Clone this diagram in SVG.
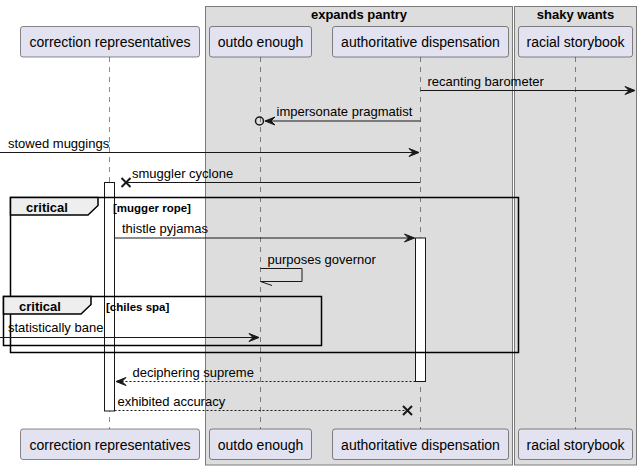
<svg xmlns="http://www.w3.org/2000/svg" width="641" height="470" viewBox="0 0 641 470">
<defs>
<style>
.grp{fill:#DDDDDD;stroke:#7a7a7a;stroke-width:1}
.gt{font-family:"Liberation Sans",Arial,sans-serif;font-size:13px;font-weight:bold;fill:#000;text-anchor:middle}
.life{stroke:#181818;stroke-width:0.5;stroke-dasharray:5,5;fill:none}
.pbox{fill:#E2E2F0;stroke:#181818;stroke-width:0.5}
.pt{font-family:"Liberation Sans",Arial,sans-serif;font-size:14px;fill:#000;text-anchor:middle}
.act{fill:#FFFFFF;stroke:#181818;stroke-width:1}
.frame{fill:none;stroke:#000;stroke-width:1.5}
.tab{fill:#EEEEEE;stroke:#000;stroke-width:1.5}
.ft{font-family:"Liberation Sans",Arial,sans-serif;font-size:13px;font-weight:bold;fill:#000}
.guard{font-family:"Liberation Sans",Arial,sans-serif;font-size:11.5px;font-weight:bold;fill:#000}
.msg{stroke:#181818;stroke-width:1;fill:none}
.dash{stroke:#181818;stroke-width:1;fill:none;stroke-dasharray:2,2}
.ah{fill:#181818;stroke:#181818;stroke-width:1}
.mt{font-family:"Liberation Sans",Arial,sans-serif;font-size:13px;fill:#000}
.xx{stroke:#181818;stroke-width:2;fill:none}
</style>
</defs>
<rect width="641" height="470" fill="#FFFFFF"/>
<g id="box-expands-pantry">
<rect class="grp" x="205.5" y="6.5" width="307" height="458.5"/>
<text class="gt" x="359" y="19">expands pantry</text>
</g>
<g id="box-shaky-wants">
<rect class="grp" x="514.5" y="6.5" width="122" height="458.5"/>
<text class="gt" x="575.5" y="19">shaky wants</text>
</g>
<g id="lifelines">
<line class="life" x1="109.5" y1="57" x2="109.5" y2="429"/>
<line class="life" x1="260.5" y1="57" x2="260.5" y2="429"/>
<line class="life" x1="420.5" y1="57" x2="420.5" y2="429"/>
<line class="life" x1="575.5" y1="57" x2="575.5" y2="429"/>
</g>
<g id="correction-representatives">
<rect class="pbox" x="20.5" y="26.5" width="179" height="30.5" rx="2.5"/>
<text class="pt" x="110" y="46.5">correction representatives</text>
<rect class="pbox" x="20.5" y="429" width="179" height="30.5" rx="2.5"/>
<text class="pt" x="110" y="449.5">correction representatives</text>
<rect class="act" x="104.5" y="182.5" width="10" height="228.5"/>
</g>
<g id="outdo-enough">
<rect class="pbox" x="209.5" y="26.5" width="102" height="30.5" rx="2.5"/>
<text class="pt" x="260.5" y="46.5">outdo enough</text>
<rect class="pbox" x="209.5" y="429" width="102" height="30.5" rx="2.5"/>
<text class="pt" x="260.5" y="449.5">outdo enough</text>
</g>
<g id="authoritative-dispensation">
<rect class="pbox" x="332.5" y="26.5" width="176" height="30.5" rx="2.5"/>
<text class="pt" x="420.5" y="46.5">authoritative dispensation</text>
<rect class="pbox" x="332.5" y="429" width="176" height="30.5" rx="2.5"/>
<text class="pt" x="420.5" y="449.5">authoritative dispensation</text>
<rect class="act" x="415.5" y="238" width="10" height="143.5"/>
</g>
<g id="racial-storybook">
<rect class="pbox" x="518.5" y="26.5" width="114" height="30.5" rx="2.5"/>
<text class="pt" x="575.5" y="46.5">racial storybook</text>
<rect class="pbox" x="518.5" y="429" width="114" height="30.5" rx="2.5"/>
<text class="pt" x="575.5" y="449.5">racial storybook</text>
</g>
<g id="frame-critical-mugger-rope">
<rect class="frame" x="10.5" y="197.5" width="508" height="155"/>
<polygon class="tab" points="10.5,197.5 98,197.5 98,205.5 88,215 10.5,215"/>
<text class="ft" x="26" y="211.5">critical</text>
<text class="guard" x="113" y="211.5">[mugger rope]</text>
</g>
<g id="frame-critical-chiles-spa">
<rect class="frame" x="3.5" y="296.5" width="318" height="49"/>
<polygon class="tab" points="3.5,296.5 91,296.5 91,304.5 81,314 3.5,314"/>
<text class="ft" x="19" y="310.5">critical</text>
<text class="guard" x="106" y="310.5">[chiles spa]</text>
</g>
<g id="connectors">
<line class="msg" x1="420.5" y1="90.5" x2="635" y2="90.5"/>
<polygon class="ah" points="625,86.5 635,90.5 625,94.5 629,90.5"/>
<text class="mt" x="427.5" y="85.5">recanting barometer</text>

<line class="msg" x1="420.5" y1="121" x2="265" y2="121"/>
<polygon class="ah" points="275,117 265,121 275,125 271,121"/>
<circle cx="259.5" cy="121" r="4" fill="none" stroke="#181818" stroke-width="1.5"/>
<text class="mt" x="276.5" y="116">impersonate pragmatist</text>

<line class="msg" x1="0" y1="152.5" x2="419" y2="152.5"/>
<polygon class="ah" points="409,148.5 419,152.5 409,156.5 413,152.5"/>
<text class="mt" x="8" y="147.5">stowed muggings</text>

<line class="msg" x1="420.5" y1="182.5" x2="126" y2="182.5"/>
<path class="xx" d="M121.5,178 L130.5,187 M121.5,187 L130.5,178"/>
<text class="mt" x="132" y="177.5">smuggler cyclone</text>

<line class="msg" x1="114.5" y1="238" x2="414.5" y2="238"/>
<polygon class="ah" points="404.5,234 414.5,238 404.5,242 408.5,238"/>
<text class="mt" x="122" y="233">thistle pyjamas</text>

<path class="msg" d="M260.5,268.5 H302 V281.5 H260.5"/>
<line class="msg" x1="260.5" y1="281.5" x2="272" y2="285.5"/>
<text class="mt" x="267.5" y="263.5">purposes governor</text>

<line class="msg" x1="0" y1="337.5" x2="259" y2="337.5"/>
<polygon class="ah" points="249,333.5 259,337.5 249,341.5 253,337.5"/>
<text class="mt" x="8" y="332">statistically bane</text>

<line class="dash" x1="415.5" y1="381.5" x2="116" y2="381.5"/>
<polygon class="ah" points="126,377.5 116,381.5 126,385.5 122,381.5"/>
<text class="mt" x="132.5" y="376.5">deciphering supreme</text>

<line class="dash" x1="114.5" y1="410.5" x2="407" y2="410.5"/>
<path class="xx" d="M403,406 L412,415 M403,415 L412,406"/>
<text class="mt" x="117.5" y="406">exhibited accuracy</text>
</g>
</svg>
